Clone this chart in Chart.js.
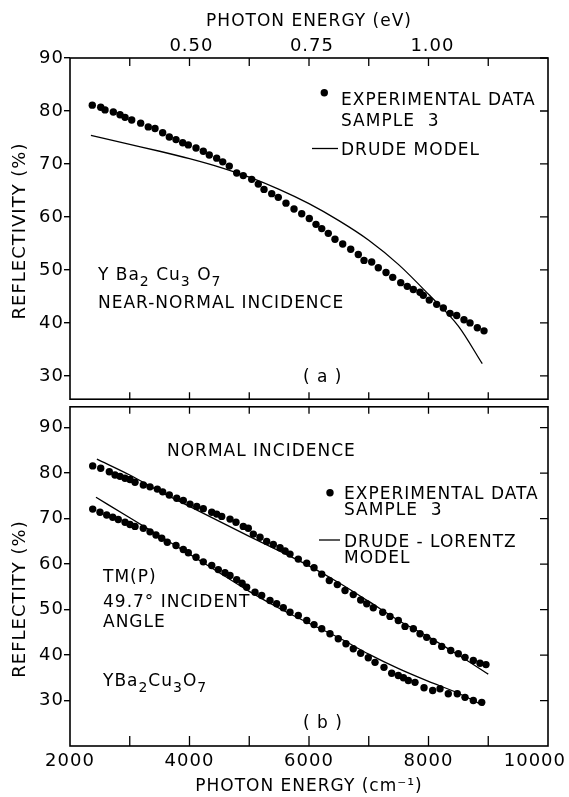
<!DOCTYPE html>
<html>
<head>
<meta charset="utf-8">
<script src="https://cdn.jsdelivr.net/npm/chart.js@4/dist/chart.umd.min.js"></script>
<style>
  html, body { margin: 0; padding: 0; background: #fff; overflow: hidden; }
  canvas { position: absolute; left: 0; }
  #cA { top: 0; }
  #cB { top: 396px; }
</style>
</head>
<body>
<canvas id="cA" width="569" height="410"></canvas>
<canvas id="cB" width="569" height="401"></canvas>
<script>
// ---------------- data ----------------
const CM_PER_EV = 8065.54;

// (a) near-normal incidence, experimental data, sample 3
const topExpX = [2373,2514,2586,2725,2837,2921,3033,3183,3310,3423,3551,3662,3774,3886,3980,4109,4231,4331,4455,4556,4666,4790,4900,5041,5151,5247,5376,5486,5615,5749,5878,6005,6117,6213,6323,6435,6564,6698,6825,6921,7049,7160,7289,7401,7535,7645,7746,7858,7913,8013,8137,8248,8360,8472,8594,8695,8817,8929];
const topExpY = [81.1,80.7,80.2,79.8,79.3,78.8,78.3,77.7,77.0,76.7,75.9,75.1,74.6,74.0,73.6,73.0,72.4,71.7,71.1,70.4,69.6,68.3,67.8,67.1,66.2,65.2,64.4,63.7,62.6,61.5,60.6,59.7,58.6,57.8,56.9,55.8,54.9,53.9,52.9,51.8,51.5,50.4,49.5,48.6,47.6,46.9,46.3,45.8,45.2,44.3,43.5,42.8,41.8,41.4,40.6,40.0,39.1,38.5];
// (a) Drude model
const topModelX = [2350,3000,3500,4000,4500,5000,5500,6000,6500,7000,7500,8000,8500,8900];
const topModelY = [75.4,73.7,72.4,71.0,69.4,67.5,65.2,62.5,59.3,55.6,51.0,45.4,39.4,32.3];

// (b) normal incidence, experimental data
const normExpX = [2380,2514,2658,2753,2837,2921,3004,3088,3227,3339,3461,3551,3662,3786,3896,4008,4121,4231,4372,4455,4539,4678,4778,4900,4984,5068,5180,5292,5403,5515,5600,5682,5821,5962,6084,6213,6340,6474,6603,6741,6865,6966,7076,7234,7356,7495,7607,7746,7858,7970,8080,8221,8372,8499,8611,8750,8862,8962];
const normExpY = [81.6,81.1,80.3,79.6,79.3,78.9,78.6,78.0,77.4,77.0,76.5,75.9,75.2,74.5,74.0,73.2,72.7,72.2,71.4,71.0,70.5,69.9,69.2,68.3,67.9,66.6,65.9,65.0,64.3,63.6,62.9,62.2,61.1,60.2,59.2,57.8,56.4,55.5,54.2,53.3,52.1,51.3,50.4,49.4,48.5,47.6,46.3,45.8,44.7,43.9,43.0,41.9,41.0,40.3,39.5,38.8,38.2,37.9];
// (b) normal incidence, Drude-Lorentz model
const normModelX = [2450,3000,3500,4000,4500,5000,5500,6000,6500,7000,7500,8000,8500,9000];
const normModelY = [83.1,79.6,76.0,72.7,69.4,66.1,62.9,59.6,55.9,51.8,47.6,44.0,40.0,35.8];

// (b) TM(P) 49.7 deg incidence, experimental data
const tmExpX = [2380,2502,2614,2715,2808,2921,3004,3088,3227,3339,3439,3535,3628,3774,3896,3980,4109,4231,4372,4482,4594,4678,4790,4880,4957,5096,5208,5347,5459,5570,5682,5821,5962,6084,6213,6351,6490,6619,6741,6865,6992,7105,7255,7384,7495,7580,7662,7774,7925,8070,8193,8331,8482,8611,8750,8891];
const tmExpY = [72.1,71.4,70.8,70.3,69.8,69.2,68.7,68.3,67.9,67.1,66.4,65.7,64.8,64.1,63.2,62.5,61.5,60.5,59.7,58.8,58.1,57.5,56.6,55.8,54.9,53.8,53.1,52.0,51.3,50.4,49.4,48.7,47.6,46.7,45.8,44.7,43.6,42.5,41.4,40.4,39.4,38.4,37.3,36.0,35.5,35.0,34.4,34.0,32.8,32.2,32.6,31.5,31.5,30.7,30.0,29.6];
// (b) TM(P) Drude-Lorentz model
const tmModelX = [2435,3000,3500,4000,4500,5000,5500,6000,6500,7000,7500,8000,8500,8920];
const tmModelY = [74.7,70.2,66.2,62.2,58.1,54.0,50.3,47.0,43.8,40.2,37.0,34.2,31.6,28.9];

// ticks
const yTicks = [30,40,50,60,70,80,90];
const xTickLabels = [2000,4000,6000,8000,10000];
const xMinorTicks = [3000,4000,5000,6000,7000,8000,9000];
const evTicks = [0.50,0.75,1.00];

// ---------------- helpers ----------------
const FONT = "'DejaVu Sans', sans-serif";
Chart.defaults.font.family = FONT;
Chart.defaults.color = '#000';

function pts(xs, ys) {
  const n = Math.min(xs.length, ys.length), out = [];
  for (let i = 0; i < n; i++) out.push({x: xs[i], y: ys[i]});
  return out;
}
const dotStyle = {showLine: false, pointRadius: 3.7, pointHoverRadius: 3.7, pointBackgroundColor: '#000', pointBorderWidth: 0, borderColor: '#000'};
const lineStyle = {showLine: true, pointRadius: 0, pointHoverRadius: 0, borderColor: '#000', borderWidth: 1.3, cubicInterpolationMode: 'monotone', fill: false};

const spacingPlugin = {
  id: 'spacing',
  beforeDraw(chart) { chart.ctx.letterSpacing = '1px'; }
};

function framePlugin(o) {
  return {
    id: 'frame',
    afterDatasetsDraw(chart) {
      const {ctx, chartArea: a, scales} = chart;
      const xs = scales.x, ys = scales.y;
      ctx.save();
      ctx.strokeStyle = '#000';
      ctx.lineWidth = 1.6;
      ctx.strokeRect(a.left, a.top, a.right - a.left, a.bottom - a.top);
      ctx.lineWidth = 1.3;
      ctx.beginPath();
      for (const v of xMinorTicks) {
        const px = xs.getPixelForValue(v);
        ctx.moveTo(px, a.top); ctx.lineTo(px, a.top + o.topLen);
        ctx.moveTo(px, a.bottom); ctx.lineTo(px, a.bottom - o.botLen);
      }
      for (const v of yTicks) {
        const py = ys.getPixelForValue(v);
        ctx.moveTo(a.right, py); ctx.lineTo(a.right - o.rightLen, py);
      }
      ctx.stroke();
      ctx.restore();
    }
  };
}

function txt(ctx, s, x, y, size) {
  ctx.font = (size || 17) + 'px ' + FONT;
  ctx.fillText(s, x, y);
}
function rich(ctx, parts, x, y, size) {
  let cx = x;
  for (const p of parts) {
    const s = p.sub ? Math.round(size * 0.82) : size;
    ctx.font = s + 'px ' + FONT;
    ctx.fillText(p.t, cx, y + (p.sub ? size * 0.36 : 0));
    cx += ctx.measureText(p.t).width;
  }
}
function vtitle(ctx, s, cx, cy) {
  ctx.save();
  ctx.translate(cx, cy);
  ctx.rotate(-Math.PI / 2);
  ctx.textAlign = 'center';
  ctx.textBaseline = 'middle';
  ctx.font = '18px ' + FONT;
  ctx.fillText(s, 0, 0);
  ctx.restore();
}
function dot(ctx, x, y) { ctx.beginPath(); ctx.arc(x, y, 3.7, 0, Math.PI * 2); ctx.fill(); }
function seg(ctx, x1, x2, y) { ctx.beginPath(); ctx.moveTo(x1, y); ctx.lineTo(x2, y); ctx.lineWidth = 1.3; ctx.stroke(); }

// ---------------- panel (a) ----------------
const annotA = {
  id: 'annotA',
  afterDraw(chart) {
    const ctx = chart.ctx;
    ctx.save();
    ctx.fillStyle = '#000'; ctx.strokeStyle = '#000';
    ctx.letterSpacing = '1px';
    ctx.textAlign = 'left'; ctx.textBaseline = 'alphabetic';
    dot(ctx, 324.3, 92.7);
    txt(ctx, 'EXPERIMENTAL DATA', 341, 105);
    txt(ctx, 'SAMPLE  3', 341, 126);
    seg(ctx, 312, 338, 148.5);
    txt(ctx, 'DRUDE MODEL', 341, 155);
    rich(ctx, [{t: 'Y Ba'}, {t: '2', sub: true}, {t: ' Cu'}, {t: '3', sub: true}, {t: ' O'}, {t: '7', sub: true}], 98, 280, 17);
    txt(ctx, 'NEAR-NORMAL INCIDENCE', 98, 308);
    txt(ctx, '( a )', 303, 382);
    vtitle(ctx, 'REFLECTIVITY (%)', 20, 231);
    ctx.restore();
  }
};

new Chart(document.getElementById('cA'), {
  type: 'scatter',
  data: {
    datasets: [
      Object.assign({label: 'Experimental data, sample 3', data: pts(topExpX, topExpY)}, dotStyle),
      Object.assign({label: 'Drude model', data: pts(topModelX, topModelY)}, lineStyle)
    ]
  },
  options: {
    responsive: false, animation: false, events: [],
    layout: {padding: {left: 0, right: 21, top: 0, bottom: 4}},
    plugins: {legend: {display: false}, tooltip: {enabled: false}},
    scales: {
      x: {type: 'linear', min: 2000, max: 10000, display: false},
      xTop: {
        type: 'linear', position: 'top', min: 2000, max: 10000,
        afterBuildTicks: s => { s.ticks = evTicks.map(e => ({value: e * CM_PER_EV})); },
        ticks: {autoSkip: false, maxRotation: 0, padding: 1, font: {size: 18},
                callback: v => (v / CM_PER_EV).toFixed(2)},
        grid: {display: false, drawTicks: false},
        border: {display: false},
        title: {display: true, text: 'PHOTON ENERGY (eV)', font: {size: 17}, padding: {top: 11, bottom: 0}},
        afterFit: s => { s.height = 58; }
      },
      y: {
        type: 'linear', min: 25.6, max: 90,
        afterBuildTicks: s => { s.ticks = yTicks.map(v => ({value: v})); },
        ticks: {font: {size: 18}, padding: 0},
        grid: {drawOnChartArea: false, drawTicks: true, tickLength: 6, color: '#000', lineWidth: 1.4},
        border: {display: false},
        afterFit: s => { s.width = 70; }
      }
    }
  },
  plugins: [spacingPlugin, framePlugin({topLen: 8, botLen: 7, rightLen: 8}), annotA]
});

// ---------------- panel (b) ----------------
const OFF = 396; // page y of canvas B
const annotB = {
  id: 'annotB',
  afterDraw(chart) {
    const ctx = chart.ctx;
    const xs = chart.scales.x;
    ctx.save();
    ctx.fillStyle = '#000'; ctx.strokeStyle = '#000';
    ctx.letterSpacing = '1px';
    ctx.textAlign = 'left'; ctx.textBaseline = 'alphabetic';
    txt(ctx, 'NORMAL INCIDENCE', 167, 456 - OFF);
    dot(ctx, 330, 492.7 - OFF);
    txt(ctx, 'EXPERIMENTAL DATA', 344, 499 - OFF);
    txt(ctx, 'SAMPLE  3', 344, 515 - OFF);
    seg(ctx, 319, 340, 540 - OFF);
    txt(ctx, 'DRUDE - LORENTZ', 344, 547 - OFF);
    txt(ctx, 'MODEL', 344, 563 - OFF);
    txt(ctx, 'TM(P)', 103, 582 - OFF);
    txt(ctx, '49.7° INCIDENT', 103, 607 - OFF);
    txt(ctx, 'ANGLE', 103, 627 - OFF);
    rich(ctx, [{t: 'YBa'}, {t: '2', sub: true}, {t: 'Cu'}, {t: '3', sub: true}, {t: 'O'}, {t: '7', sub: true}], 103, 686 - OFF, 17);
    txt(ctx, '( b )', 303, 728 - OFF);
    vtitle(ctx, 'REFLECTITY (%)', 20, 599 - OFF);
    // x tick labels of the shared energy axis
    ctx.font = '18px ' + FONT;
    ctx.textAlign = 'left';
    for (const v of xTickLabels) {
      const w = ctx.measureText(String(v)).width;
      let x0 = xs.getPixelForValue(v) - w / 2;
      if (x0 + w > chart.width - 3) x0 = chart.width - 3 - w;
      ctx.fillText(String(v), x0, 766 - OFF);
    }
    ctx.restore();
  }
};

new Chart(document.getElementById('cB'), {
  type: 'scatter',
  data: {
    datasets: [
      Object.assign({label: 'Normal incidence data', data: pts(normExpX, normExpY)}, dotStyle),
      Object.assign({label: 'Normal incidence Drude-Lorentz', data: pts(normModelX, normModelY)}, lineStyle),
      Object.assign({label: 'TM(P) 49.7° data', data: pts(tmExpX, tmExpY)}, dotStyle),
      Object.assign({label: 'TM(P) 49.7° Drude-Lorentz', data: pts(tmModelX, tmModelY)}, lineStyle)
    ]
  },
  options: {
    responsive: false, animation: false, events: [],
    layout: {padding: {left: 0, right: 21, top: 10, bottom: 0}},
    plugins: {legend: {display: false}, tooltip: {enabled: false}},
    scales: {
      x: {
        type: 'linear', position: 'bottom', min: 2000, max: 10000,
        afterBuildTicks: s => { s.ticks = xTickLabels.map(v => ({value: v})); },
        ticks: {display: false},
        grid: {display: false, drawTicks: false},
        border: {display: false},
        title: {display: true, text: 'PHOTON ENERGY (cm⁻¹)', font: {size: 17}, padding: {top: 0, bottom: 0}},
        afterFit: s => { s.height = 51; s.paddingLeft = 0; s.paddingRight = 0; }
      },
      y: {
        type: 'linear', min: 20, max: 94.6,
        afterBuildTicks: s => { s.ticks = yTicks.map(v => ({value: v})); },
        ticks: {font: {size: 18}, padding: 0},
        grid: {drawOnChartArea: false, drawTicks: true, tickLength: 6, color: '#000', lineWidth: 1.4},
        border: {display: false},
        afterFit: s => { s.width = 70; }
      }
    }
  },
  plugins: [spacingPlugin, framePlugin({topLen: 7, botLen: 10, rightLen: 8}), annotB]
});
</script>
</body>
</html>
